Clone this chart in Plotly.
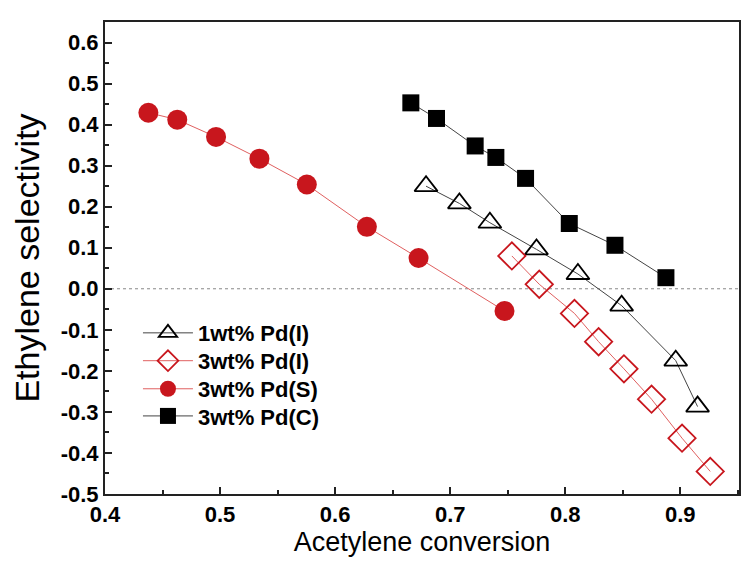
import plotly.graph_objects as go

# Ethylene selectivity vs acetylene conversion
x_1pd_i = [0.679, 0.708, 0.7345, 0.775, 0.811, 0.849, 0.896, 0.915]
y_1pd_i = [0.250, 0.208, 0.161, 0.096, 0.036, -0.041, -0.175, -0.287]

x_3pd_i = [0.7536, 0.7774, 0.808, 0.829, 0.851, 0.875, 0.9015, 0.926]
y_3pd_i = [0.080, 0.011, -0.060, -0.129, -0.195, -0.269, -0.364, -0.445]

x_3pd_s = [0.4377, 0.4628, 0.4965, 0.5342, 0.5754, 0.6276, 0.6725, 0.7472]
y_3pd_s = [0.429, 0.412, 0.370, 0.317, 0.254, 0.151, 0.075, -0.054]

x_3pd_c = [0.6658, 0.6881, 0.7217, 0.7397, 0.7655, 0.8035, 0.8432, 0.8875]
y_3pd_c = [0.453, 0.415, 0.348, 0.320, 0.269, 0.159, 0.106, 0.027]

x_ticks = [0.4, 0.5, 0.6, 0.7, 0.8, 0.9]
x_labels = ['0.4', '0.5', '0.6', '0.7', '0.8', '0.9']
y_ticks = [-0.5, -0.4, -0.3, -0.2, -0.1, 0.0, 0.1, 0.2, 0.3, 0.4, 0.5, 0.6]
y_labels = ['-0.5', '-0.4', '-0.3', '-0.2', '-0.1', '0.0', '0.1', '0.2', '0.3', '0.4', '0.5', '0.6']

red = '#C8161D'

fig = go.Figure()

# each trace gets its own legend box so the rows can sit closer together
fig.add_trace(go.Scatter(x=x_1pd_i, y=y_1pd_i, name='1wt% Pd(I)', mode='lines+markers',
                         legend='legend', showlegend=True,
                         line=dict(color='#444444', width=1),
                         marker=dict(symbol='triangle-up-open', size=20, color='black',
                                     line=dict(width=1.8, color='black'))))
fig.add_trace(go.Scatter(x=x_3pd_i, y=y_3pd_i, name='3wt% Pd(I)', mode='lines+markers',
                         legend='legend2',
                         line=dict(color='#E06060', width=1),
                         marker=dict(symbol='diamond-open', size=21, color=red,
                                     line=dict(width=1.8, color=red))))
fig.add_trace(go.Scatter(x=x_3pd_s, y=y_3pd_s, name='3wt% Pd(S)', mode='lines+markers',
                         legend='legend3',
                         line=dict(color='#E06060', width=1),
                         marker=dict(symbol='circle', size=20, color=red)))
fig.add_trace(go.Scatter(x=x_3pd_c, y=y_3pd_c, name='3wt% Pd(C)', mode='lines+markers',
                         legend='legend4',
                         line=dict(color='#444444', width=1),
                         marker=dict(symbol='square', size=17, color='black')))

# dotted zero line
fig.add_hline(y=0, line=dict(color='#888888', width=1, dash='dot'), layer='below')

axis_common = dict(showline=True, linecolor='#222222', linewidth=2, mirror=True,
                   ticks='inside', ticklen=7, tickwidth=1.5, tickcolor='#222222',
                   showgrid=False, zeroline=False, automargin=False,
                   tickfont=dict(family='Arial', size=22, color='black', weight='bold'),
                   minor=dict(ticks='inside', ticklen=4, tickwidth=1.5, tickcolor='#222222'))

fig.update_xaxes(range=[0.4, 0.951], tickvals=x_ticks, ticktext=x_labels,
                 title=dict(text='Acetylene conversion', font=dict(family='Arial', size=27, color='black'),
                            standoff=4),
                 minor_dtick=0.05, minor_tick0=0.4, **axis_common)
fig.update_yaxes(range=[-0.5, 0.65], tickvals=y_ticks, ticktext=y_labels,
                 title=dict(text='Ethylene selectivity', font=dict(family='Arial', size=34, color='black'),
                            standoff=12),
                 minor_dtick=0.05, minor_tick0=0, **axis_common)

leg = dict(x=0.052, xanchor='left', yanchor='middle', bgcolor='rgba(0,0,0,0)',
           font=dict(family='Arial', size=22, color='black', weight='bold'), itemwidth=50)

# page body has an 8px margin, so the figure is a bit smaller and shifted
fig.update_layout(width=742, height=562, plot_bgcolor='white', paper_bgcolor='white',
                  margin=dict(l=97, r=11, t=14, b=76), showlegend=True,
                  legend=dict(y=0.341, **leg),
                  legend2=dict(y=0.282, **leg),
                  legend3=dict(y=0.2225, **leg),
                  legend4=dict(y=0.165, **leg))

fig.write_html("out.html")
